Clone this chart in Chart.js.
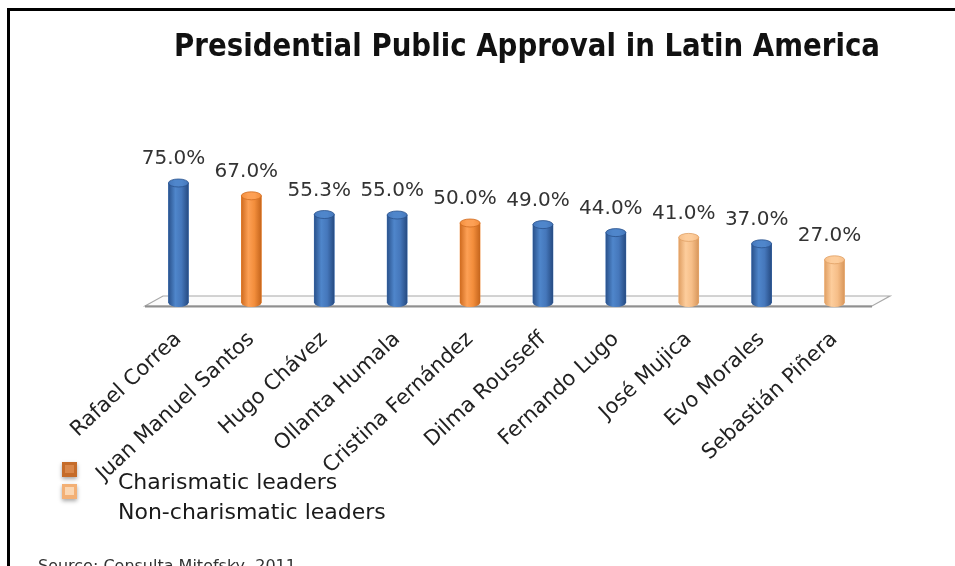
<!DOCTYPE html>
<html>
<head>
<meta charset="utf-8">
<title>Presidential Public Approval in Latin America</title>
<script src="https://cdn.jsdelivr.net/npm/chart.js@4.4.0/dist/chart.umd.min.js"></script>
<style>
  html, body { margin: 0; padding: 0; background: #fff; }
  #wrap { position: relative; width: 955px; height: 566px; overflow: hidden; }
</style>
</head>
<body>
<div id="wrap"><canvas id="approvalChart" width="955" height="566"></canvas></div>
<script>
const leaders = ['Rafael Correa', 'Juan Manuel Santos', 'Hugo Chávez', 'Ollanta Humala', 'Cristina Fernández',
                 'Dilma Rousseff', 'Fernando Lugo', 'José Mujica', 'Evo Morales', 'Sebastián Piñera'];
const approval = [75.0, 67.0, 55.3, 55.0, 50.0, 49.0, 44.0, 41.0, 37.0, 27.0];
const leaderType = ['other', 'charismatic', 'other', 'other', 'charismatic',
                    'other', 'other', 'nonCharismatic', 'other', 'nonCharismatic'];
const legendLabels = ['Charismatic leaders', 'Non-charismatic leaders'];
const titleText = 'Presidential Public Approval in Latin America';
const sourceText = 'Source: Consulta Mitofsky, 2011';

// edge, highlight, mid, edge - used for the cylinder shading
const palette = {
  other:          ['#2a528c', '#4f86cb', '#4577bb', '#264b82'],
  charismatic:    ['#cf6b1f', '#fda055', '#f38e3c', '#c5651c'],
  nonCharismatic: ['#e09f63', '#fdcd9c', '#f6be88', '#d8965a']
};
const swatches = [['#c56c2a', '#d9874a'], ['#f3b075', '#fbd7b3']];

function cylinderFill(ctx, cols, x, w) {
  const g = ctx.createLinearGradient(x - w / 2, 0, x + w / 2, 0);
  g.addColorStop(0, cols[0]);
  g.addColorStop(0.35, cols[1]);
  g.addColorStop(0.65, cols[2]);
  g.addColorStop(1, cols[3]);
  return g;
}

const floorPlugin = {
  id: 'floor',
  beforeDatasetsDraw(chart) {
    const { ctx, chartArea: a, scales: { y } } = chart;
    const y0 = y.getPixelForValue(0);
    ctx.save();
    ctx.beginPath();
    ctx.moveTo(a.left + 3, y0 + 3);
    ctx.lineTo(a.left + 21, y0 - 7);
    ctx.lineTo(a.right + 19, y0 - 7);
    ctx.lineTo(a.right + 1, y0 + 3);
    ctx.closePath();
    ctx.fillStyle = '#fbfbfb';
    ctx.fill();
    ctx.strokeStyle = '#a8a8a8';
    ctx.lineWidth = 1.2;
    ctx.stroke();
    ctx.beginPath();
    ctx.moveTo(a.left + 3, y0 + 3.5);
    ctx.lineTo(a.right + 1, y0 + 3.5);
    ctx.strokeStyle = '#8f8f8f';
    ctx.lineWidth = 2;
    ctx.stroke();
    ctx.restore();
  }
};

const cylinderPlugin = {
  id: 'cylinders',
  afterDatasetsDraw(chart) {
    const ctx = chart.ctx;
    const meta = chart.getDatasetMeta(0);
    ctx.save();
    meta.data.forEach((bar, i) => {
      const cols = palette[leaderType[i]];
      const x = bar.x, top = bar.y, base = bar.base, w = bar.width;
      const r = w / 2, ry = 4;
      // body with rounded bottom
      ctx.beginPath();
      ctx.moveTo(x - r, top);
      ctx.lineTo(x - r, base);
      ctx.ellipse(x, base, r, ry, 0, Math.PI, 0, true);
      ctx.lineTo(x + r, top);
      ctx.closePath();
      ctx.fillStyle = cylinderFill(ctx, cols, x, w);
      ctx.fill();
      // top face
      ctx.beginPath();
      ctx.ellipse(x, top, r, ry, 0, 0, Math.PI * 2);
      ctx.fillStyle = cylinderFill(ctx, [cols[2], cols[1], cols[1], cols[2]], x, w);
      ctx.fill();
      ctx.strokeStyle = cols[0];
      ctx.lineWidth = 0.8;
      ctx.stroke();
    });
    ctx.restore();
  }
};

const valueLabelPlugin = {
  id: 'valueLabels',
  afterDatasetsDraw(chart) {
    const ctx = chart.ctx;
    const meta = chart.getDatasetMeta(0);
    ctx.save();
    ctx.font = '20px "DejaVu Sans"';
    ctx.fillStyle = '#333';
    ctx.textAlign = 'center';
    ctx.textBaseline = 'middle';
    meta.data.forEach((bar, i) => {
      ctx.fillText(approval[i].toFixed(1) + '%', bar.x - 5, bar.y - 24);
    });
    ctx.restore();
  }
};

const decorPlugin = {
  id: 'decor',
  afterDraw(chart) {
    const ctx = chart.ctx;
    ctx.save();
    // frame
    ctx.fillStyle = '#000';
    ctx.fillRect(7, 8, 948, 3);
    ctx.fillRect(7, 8, 3, 560);

    // title, squeezed to a condensed bold
    ctx.font = 'bold 32px "DejaVu Sans"';
    ctx.fillStyle = '#111';
    ctx.textBaseline = 'alphabetic';
    ctx.textAlign = 'left';
    const tw = ctx.measureText(titleText).width;
    const targetW = 706;
    ctx.save();
    ctx.translate(174, 56);
    ctx.scale(targetW / tw, 1);
    ctx.fillText(titleText, 0, 0);
    ctx.restore();

    // legend
    const sy = [462, 484];
    swatches.forEach((c, i) => {
      ctx.save();
      ctx.shadowColor = 'rgba(0,0,0,0.35)';
      ctx.shadowBlur = 4;
      ctx.shadowOffsetY = 2;
      ctx.fillStyle = c[0];
      ctx.fillRect(62, sy[i], 15, 15);
      ctx.restore();
      ctx.fillStyle = c[1];
      ctx.fillRect(65, sy[i] + 3, 9, 8);
    });
    ctx.font = '22px "DejaVu Sans"';
    ctx.fillStyle = '#1a1a1a';
    ctx.fillText(legendLabels[0], 118, 489);
    ctx.fillText(legendLabels[1], 118, 519);

    // source
    ctx.font = '16px "DejaVu Sans"';
    ctx.fillStyle = '#333';
    ctx.fillText(sourceText, 38, 571);
    ctx.restore();
  }
};

new Chart(document.getElementById('approvalChart'), {
  type: 'bar',
  data: {
    labels: leaders,
    datasets: [{
      data: approval,
      backgroundColor: leaderType.map(t => palette[t][2]),
      barThickness: 20
    }]
  },
  options: {
    responsive: false,
    animation: false,
    layout: { padding: { left: 142, right: 84, top: 143, bottom: 0 } },
    plugins: {
      legend: { display: false },
      tooltip: { enabled: false }
    },
    scales: {
      y: { display: false, min: 0, max: 100 },
      x: {
        grid: { display: false, drawTicks: false },
        border: { display: false },
        ticks: {
          autoSkip: false,
          minRotation: 43,
          maxRotation: 43,
          padding: 24,
          color: '#222',
          font: { family: 'DejaVu Sans', size: 21 }
        },
        afterFit(axis) { axis.height = 263; }
      }
    }
  },
  plugins: [floorPlugin, cylinderPlugin, valueLabelPlugin, decorPlugin]
});
</script>
</body>
</html>
